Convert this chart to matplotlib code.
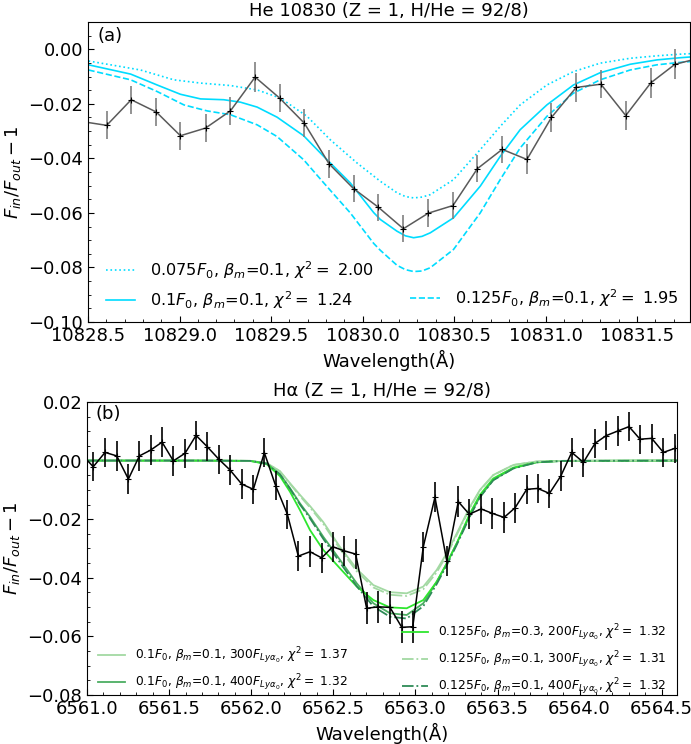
import matplotlib
matplotlib.use('Agg')
import matplotlib.pyplot as plt
from matplotlib.lines import Line2D
from matplotlib.ticker import AutoMinorLocator

# ---- panel (a): He 10830 ----
wav_he = [10828.467, 10828.602, 10828.736, 10828.873, 10829.005, 10829.142, 10829.278, 10829.413,
          10829.547, 10829.682, 10829.817, 10829.951, 10830.086, 10830.223, 10830.359, 10830.494,
          10830.627, 10830.763, 10830.898, 10831.032, 10831.167, 10831.302, 10831.438, 10831.575,
          10831.707, 10831.844]
depth_he = [-0.0265, -0.0279, -0.0185, -0.0230, -0.0317, -0.0289, -0.0226, -0.0102,
            -0.0179, -0.0271, -0.0420, -0.0511, -0.0579, -0.0658, -0.0601, -0.0573,
            -0.0438, -0.0367, -0.0404, -0.0250, -0.0140, -0.0128, -0.0243, -0.0123,
            -0.0055, -0.0032]
err_he = [0.0050, 0.0051, 0.0052, 0.0050, 0.0052, 0.0050, 0.0052, 0.0055,
          0.0050, 0.0052, 0.0052, 0.0050, 0.0050, 0.0050, 0.0052, 0.0050,
          0.0050, 0.0050, 0.0055, 0.0052, 0.0052, 0.0052, 0.0052, 0.0055,
          0.0055, 0.0055]

# 0.075 F0 (dotted)
he_w_075 = [10828.503, 10828.787, 10828.969, 10829.115, 10829.278, 10829.424, 10829.551, 10829.697,
            10829.824, 10829.970, 10830.097, 10830.188, 10830.234, 10830.279, 10830.325, 10830.370,
            10830.497, 10830.643, 10830.752, 10830.861, 10831.007, 10831.152, 10831.298, 10831.462,
            10831.608, 10831.735, 10831.795]
he_m_075 = [-0.0043, -0.0076, -0.0112, -0.0124, -0.0133, -0.0149, -0.0179, -0.0246,
            -0.0332, -0.0417, -0.0484, -0.0526, -0.0540, -0.0545, -0.0542, -0.0533,
            -0.0478, -0.0368, -0.0283, -0.0204, -0.0131, -0.0082, -0.0051, -0.0033,
            -0.0024, -0.0018, -0.0016]
# 0.1 F0 (solid)
he_w_100 = [10828.503, 10828.733, 10828.878, 10829.005, 10829.115, 10829.242, 10829.333, 10829.424,
            10829.533, 10829.678, 10829.788, 10829.933, 10830.061, 10830.097, 10830.188, 10830.234,
            10830.279, 10830.325, 10830.370, 10830.497, 10830.643, 10830.752, 10830.861, 10831.007,
            10831.152, 10831.298, 10831.462, 10831.608, 10831.735, 10831.795]
he_m_100 = [-0.0057, -0.0091, -0.0131, -0.0165, -0.0182, -0.0185, -0.0194, -0.0212,
            -0.0249, -0.0317, -0.0393, -0.0490, -0.0599, -0.0624, -0.0667, -0.0684,
            -0.0691, -0.0686, -0.0673, -0.0618, -0.0502, -0.0393, -0.0295, -0.0204,
            -0.0131, -0.0086, -0.0055, -0.0039, -0.0031, -0.0028]
# 0.125 F0 (dashed)
he_w_125 = [10828.503, 10828.733, 10828.878, 10829.024, 10829.151, 10829.278, 10829.424, 10829.533,
            10829.678, 10829.788, 10829.933, 10830.061, 10830.097, 10830.188, 10830.234, 10830.279,
            10830.325, 10830.370, 10830.497, 10830.643, 10830.752, 10830.861, 10831.007, 10831.152,
            10831.298, 10831.462, 10831.608, 10831.735, 10831.795]
he_m_125 = [-0.0076, -0.0112, -0.0155, -0.0204, -0.0226, -0.0240, -0.0277, -0.0320,
            -0.0405, -0.0490, -0.0600, -0.0712, -0.0737, -0.0792, -0.0808, -0.0815,
            -0.0813, -0.0801, -0.0734, -0.0600, -0.0478, -0.0362, -0.0246, -0.0161,
            -0.0112, -0.0076, -0.0057, -0.0048, -0.0045]

# ---- panel (b): H alpha ----
wav_ha = [6560.970, 6561.038, 6561.110, 6561.181, 6561.252, 6561.319, 6561.388, 6561.457, 6561.526,
          6561.597, 6561.664, 6561.733, 6561.804, 6561.871, 6561.942, 6562.013, 6562.080, 6562.149,
          6562.220, 6562.287, 6562.358, 6562.429, 6562.496, 6562.567, 6562.636, 6562.703, 6562.774,
          6562.845, 6562.917, 6562.984, 6563.048, 6563.119, 6563.191, 6563.261, 6563.328, 6563.400,
          6563.468, 6563.540, 6563.607, 6563.678, 6563.745, 6563.816, 6563.885, 6563.952, 6564.023,
          6564.094, 6564.161, 6564.232, 6564.301, 6564.368, 6564.439, 6564.510, 6564.581]
depth_ha = [0.0020, -0.0021, 0.0028, 0.0016, -0.0063, 0.0016, 0.0036, 0.0063, -0.0001,
            0.0025, 0.0086, 0.0047, 0.0004, -0.0032, -0.0080, -0.0098, 0.0027, -0.0086,
            -0.0183, -0.0326, -0.0311, -0.0332, -0.0294, -0.0308, -0.0319, -0.0504, -0.0499,
            -0.0501, -0.0569, -0.0567, -0.0294, -0.0125, -0.0342, -0.0140, -0.0183, -0.0165,
            -0.0180, -0.0194, -0.0161, -0.0098, -0.0095, -0.0112, -0.0053, 0.0028, -0.0006,
            0.0059, 0.0085, 0.0101, 0.0116, 0.0073, 0.0076, 0.0028, 0.0042]
err_ha = [0.0050, 0.0050, 0.0050, 0.0050, 0.0050, 0.0050, 0.0050, 0.0050, 0.0050,
          0.0050, 0.0050, 0.0050, 0.0050, 0.0050, 0.0050, 0.0050, 0.0050, 0.0050,
          0.0050, 0.0052, 0.0052, 0.0052, 0.0052, 0.0052, 0.0052, 0.0055, 0.0055,
          0.0055, 0.0055, 0.0055, 0.0052, 0.0052, 0.0052, 0.0052, 0.0052, 0.0052,
          0.0052, 0.0052, 0.0052, 0.0050, 0.0050, 0.0050, 0.0050, 0.0050, 0.0050,
          0.0050, 0.0050, 0.0050, 0.0050, 0.0050, 0.0050, 0.0050, 0.0050]

mod_wav_ha = [6561.000, 6561.688, 6561.993, 6562.094, 6562.175, 6562.236, 6562.297, 6562.358,
              6562.439, 6562.541, 6562.643, 6562.744, 6562.845, 6562.947, 6563.048, 6563.130,
              6563.191, 6563.252, 6563.333, 6563.393, 6563.474, 6563.596, 6563.739, 6563.899,
              6564.600]
ha_100_300 = [0.0, 0.0, -0.0001, -0.0008, -0.0036, -0.0077, -0.0117, -0.0155, -0.0210, -0.0295,
              -0.0370, -0.0425, -0.0449, -0.0453, -0.0430, -0.0373, -0.0316, -0.0248, -0.0157,
              -0.0100, -0.0049, -0.0015, -0.0003, -0.0001, 0.0]
ha_100_400 = [0.0, 0.0, -0.0001, -0.0010, -0.0046, -0.0094, -0.0146, -0.0192, -0.0260, -0.0339,
              -0.0419, -0.0487, -0.0521, -0.0527, -0.0487, -0.0413, -0.0351, -0.0282, -0.0186,
              -0.0123, -0.0066, -0.0026, -0.0006, -0.0001, 0.0]
ha_125_b03_200 = [0.0, 0.0, -0.0001, -0.0012, -0.0053, -0.0106, -0.0169, -0.0237, -0.0305, -0.0368,
                  -0.0430, -0.0476, -0.0501, -0.0504, -0.0476, -0.0413, -0.0351, -0.0282, -0.0179,
                  -0.0117, -0.0061, -0.0024, -0.0005, -0.0001, 0.0]
ha_125_300 = [0.0, 0.0, -0.0001, -0.0009, -0.0037, -0.0079, -0.0121, -0.0160, -0.0216, -0.0302,
              -0.0378, -0.0433, -0.0458, -0.0462, -0.0439, -0.0381, -0.0322, -0.0253, -0.0160,
              -0.0102, -0.0050, -0.0015, -0.0003, -0.0001, 0.0]
ha_125_400 = [0.0, 0.0, -0.0001, -0.0010, -0.0047, -0.0096, -0.0150, -0.0197, -0.0267, -0.0348,
              -0.0429, -0.0498, -0.0533, -0.0539, -0.0497, -0.0421, -0.0357, -0.0287, -0.0189,
              -0.0125, -0.0067, -0.0027, -0.0006, -0.0001, 0.0]

plt.rcParams['font.size'] = 13
plt.rcParams['xtick.direction'] = 'in'
plt.rcParams['ytick.direction'] = 'in'
plt.rcParams['mathtext.fontset'] = 'dejavusans'

fig = plt.figure(figsize=(6.91, 7.44), dpi=100)
ax1 = fig.add_axes([88 / 691, 1 - 322 / 744, 602 / 691, 300 / 744])
ax2 = fig.add_axes([87 / 691, 1 - 695 / 744, 590 / 691, 293 / 744])

cyan = '#00dcff'
l1, = ax1.plot(he_w_075, he_m_075, ':', color=cyan, lw=1.2,
               label=r'0.075$F_0$, $\beta_m$=0.1, $\chi^2=$ 2.00')
l2, = ax1.plot(he_w_100, he_m_100, '-', color=cyan, lw=1.2,
               label=r'0.1$F_0$, $\beta_m$=0.1, $\chi^2=$ 1.24')
l3, = ax1.plot(he_w_125, he_m_125, '--', color=cyan, lw=1.2,
               label=r'0.125$F_0$, $\beta_m$=0.1, $\chi^2=$ 1.95')
ax1.errorbar(wav_he, depth_he, yerr=err_he, fmt='-', color='#5a5a5a', ecolor='#808080',
             elinewidth=1.2, lw=1.1, marker='+', ms=5, mec='k', mew=0.8)
blank = Line2D([], [], alpha=0)
ax1.legend([l1, l2, blank, l3], [l1.get_label(), l2.get_label(), ' ', l3.get_label()],
           ncol=2, frameon=False, fontsize=11.6, loc='lower left',
           bbox_to_anchor=(0.005, -0.01), columnspacing=2.2, handletextpad=0.93,
           handlelength=1.86)
ax1.set_xlim(10828.5, 10831.789)
ax1.set_ylim(-0.10, 0.01)
ax1.set_title('He 10830 (Z = 1, H/He = 92/8)', fontsize=13, pad=4)
ax1.set_xlabel('Wavelength(Å)')
ax1.set_ylabel(r'$F_{in}/F_{out}-1$')
ax1.text(0.015, 0.985, '(a)', transform=ax1.transAxes, ha='left', va='top')

m1, = ax2.plot(mod_wav_ha, ha_100_300, '-', color='#a3d9a3', lw=1.3,
               label=r'0.1$F_0$, $\beta_m$=0.1, 300$F_{Ly\alpha_0}$, $\chi^2=$ 1.37')
m2, = ax2.plot(mod_wav_ha, ha_100_400, '-', color='#4cae62', lw=1.3,
               label=r'0.1$F_0$, $\beta_m$=0.1, 400$F_{Ly\alpha_0}$, $\chi^2=$ 1.32')
m3, = ax2.plot(mod_wav_ha, ha_125_b03_200, '-', color='#2ee62e', lw=1.3,
               label=r'0.125$F_0$, $\beta_m$=0.3, 200$F_{Ly\alpha_0}$, $\chi^2=$ 1.32')
m4, = ax2.plot(mod_wav_ha, ha_125_300, '-.', color='#a3d9a3', lw=1.3,
               label=r'0.125$F_0$, $\beta_m$=0.1, 300$F_{Ly\alpha_0}$, $\chi^2=$ 1.31')
m5, = ax2.plot(mod_wav_ha, ha_125_400, '-.', color='#2e8b57', lw=1.3,
               label=r'0.125$F_0$, $\beta_m$=0.1, 400$F_{Ly\alpha_0}$, $\chi^2=$ 1.32')
ax2.errorbar(wav_ha, depth_ha, yerr=err_ha, fmt='-', color='k', ecolor='k',
             elinewidth=1.2, lw=1.1, marker='+', ms=5, mew=0.8)
ax2.legend([blank, m1, m2, m3, m4, m5], [' ', m1.get_label(), m2.get_label(), m3.get_label(),
                                         m4.get_label(), m5.get_label()],
           ncol=2, frameon=False, fontsize=8.8, loc='lower left',
           bbox_to_anchor=(0.0, -0.044), columnspacing=4.4, handletextpad=0.8,
           handlelength=2.2)
ax2.set_xlim(6561.0, 6564.593)
ax2.set_ylim(-0.08, 0.02)
ax2.set_title('Hα (Z = 1, H/He = 92/8)', fontsize=13, pad=4)
ax2.set_xlabel('Wavelength(Å)')
ax2.set_ylabel(r'$F_{in}/F_{out}-1$')
ax2.text(0.015, 0.99, '(b)', transform=ax2.transAxes, ha='left', va='top')

for ax in (ax1, ax2):
    ax.xaxis.set_minor_locator(AutoMinorLocator())
    ax.yaxis.set_minor_locator(AutoMinorLocator())
    ax.tick_params(which='major', length=4, width=0.8)
    ax.tick_params(which='minor', length=2, width=0.6)
    ax.ticklabel_format(axis='x', useOffset=False)

fig.savefig('out.png', dpi=100)
